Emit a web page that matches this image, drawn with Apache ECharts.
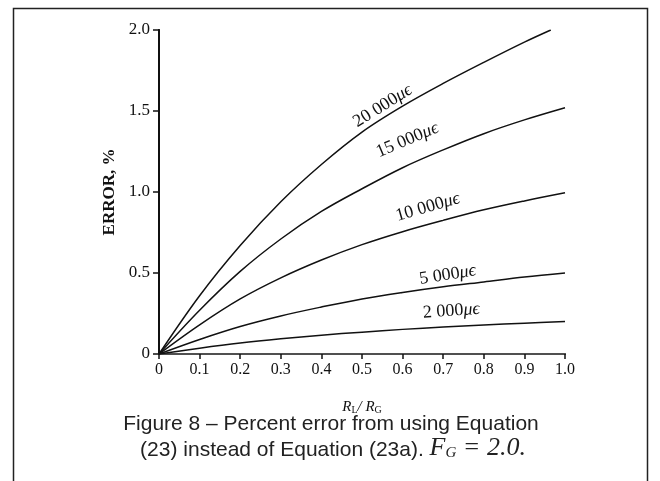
<!DOCTYPE html>
<html><head><meta charset="utf-8">
<script src="https://cdn.jsdelivr.net/npm/echarts/dist/echarts.min.js"></script>
<style>html,body{margin:0;padding:0;background:#fff}#c{width:660px;height:481px}</style>
</head><body><div id="c"></div>
<script>
// ---- data ----
const xValues = [0, 0.1, 0.2, 0.3, 0.4, 0.5, 0.6, 0.7, 0.8, 0.9, 1.0];
const x20000 = [0, 0.1, 0.2, 0.3, 0.4, 0.5, 0.6, 0.7, 0.8, 0.9, 0.965];
const err20000 = [0, 0.36, 0.67, 0.94, 1.17, 1.37, 1.53, 1.67, 1.80, 1.925, 2.0];
const err15000 = [0, 0.27, 0.51, 0.71, 0.88, 1.02, 1.15, 1.26, 1.36, 1.445, 1.52];
const err10000 = [0, 0.18, 0.34, 0.47, 0.58, 0.675, 0.755, 0.825, 0.89, 0.945, 0.995];
const err5000 = [0, 0.09, 0.17, 0.235, 0.29, 0.34, 0.38, 0.415, 0.445, 0.475, 0.50];
const err2000 = [0, 0.036, 0.068, 0.094, 0.116, 0.135, 0.152, 0.166, 0.179, 0.19, 0.2];
const curveNames = ['20 000', '15 000', '10 000', '5 000', '2 000'];
const xTicks = ['0', '0.1', '0.2', '0.3', '0.4', '0.5', '0.6', '0.7', '0.8', '0.9', '1.0'];
const yTicks = ['0', '0.5', '1.0', '1.5', '2.0'];

const SERIF = '"Liberation Serif","Times New Roman",serif';
const SANS = '"Liberation Sans",Arial,sans-serif';

function pairs(xs, ys) { return ys.map((v, i) => [xs[i], v]); }
const allSeries = [
  pairs(x20000, err20000),
  pairs(xValues, err15000),
  pairs(xValues, err10000),
  pairs(xValues, err5000),
  pairs(xValues, err2000)
];

const chart = echarts.init(document.getElementById('c'), null, {renderer: 'canvas'});
const option = {
  animation: false,
  backgroundColor: '#fff',
  grid: {left: 159, right: 95, top: 30, bottom: 127, containLabel: false},
  xAxis: [{
    type: 'value', min: 0, max: 1, interval: 0.1,
    axisLine: {show: true, onZero: false, lineStyle: {color: '#111', width: 2}},
    axisTick: {show: true, inside: false, length: 5, lineStyle: {color: '#111', width: 1.5}},
    axisLabel: {margin: 8, color: '#111', fontFamily: SERIF, fontSize: 16,
      formatter: (v) => xTicks[Math.round(v * 10)]},
    splitLine: {show: false}
  }, {
    type: 'value', min: 0, max: 1, position: 'top',
    axisLine: {show: true, lineStyle: {color: '#666', width: 1.5}},
    axisTick: {show: false}, axisLabel: {show: false}, splitLine: {show: false}
  }],
  yAxis: [{
    type: 'value', min: 0, max: 2, interval: 0.5,
    name: 'ERROR, %', nameLocation: 'middle', nameRotate: 90, nameGap: 41,
    nameTextStyle: {fontFamily: SERIF, fontWeight: 'bold', fontSize: 17, color: '#111'},
    axisLine: {show: true, onZero: false, lineStyle: {color: '#111', width: 2}},
    axisTick: {show: true, inside: false, length: 6, lineStyle: {color: '#111', width: 1.5}},
    axisLabel: {margin: 9, color: '#111', fontFamily: SERIF, fontSize: 17,
      formatter: (v) => yTicks[Math.round(v * 2)]},
    splitLine: {show: false}
  }, {
    type: 'value', min: 0, max: 2, position: 'right',
    axisLine: {show: true, lineStyle: {color: '#111', width: 1.8}},
    axisTick: {show: false}, axisLabel: {show: false}, splitLine: {show: false}
  }],
  series: allSeries.map((d, i) => ({
    type: 'line', name: curveNames[i], data: d, smooth: 0.35,
    symbol: 'none', clip: true,
    lineStyle: {color: '#111', width: 1.5}
  })),
  graphic: []
};
chart.setOption(option);

// curve labels: [data x, data y, rotation deg]
const labelPlaces = [
  [0.551, 1.53, 32],
  [0.612, 1.32, 23],
  [0.662, 0.905, 16],
  [0.711, 0.488, 9],
  [0.72, 0.265, 4]
];
const g = [];
labelPlaces.forEach((p, i) => {
  const pt = chart.convertToPixel({gridIndex: 0}, [p[0], p[1]]);
  g.push({
    type: 'text', x: pt[0], y: pt[1], rotation: p[2] * Math.PI / 180,
    style: {
      text: '{n|' + curveNames[i] + '}{m|μϵ}',
      align: 'center', verticalAlign: 'middle',
      rich: {
        n: {fontFamily: SERIF, fontSize: 18, fill: '#111'},
        m: {fontFamily: SERIF, fontSize: 18, fontStyle: 'italic', fill: '#111'}
      }
    }
  });
});
// outer frame
g.push({type: 'rect', shape: {x: 13.5, y: 8.5, width: 634, height: 520},
  style: {fill: null, stroke: '#222', lineWidth: 1.5}, silent: true});
// x-axis name
g.push({type: 'text', x: 362, y: 406, style: {
  text: '{r|R}{s|L}{r|/ R}{s|G}', align: 'center', verticalAlign: 'middle',
  rich: {
    r: {fontFamily: SERIF, fontStyle: 'italic', fontSize: 15, fill: '#111', verticalAlign: 'bottom', lineHeight: 18},
    s: {fontFamily: SERIF, fontSize: 10, fill: '#111', verticalAlign: 'bottom', lineHeight: 12}
  }
}});
// caption (centred on the figure frame)
g.push({type: 'text', x: 331, y: 424, style: {
  text: 'Figure 8 – Percent error from using Equation', align: 'center', verticalAlign: 'middle',
  fontFamily: SANS, fontSize: 21, fill: '#222'
}});
g.push({type: 'text', x: 333, y: 449, style: {
  text: '{a|(23) instead of Equation (23a). }{f|F}{s|G}{f| = 2.0.}', align: 'center', verticalAlign: 'middle',
  rich: {
    a: {fontFamily: SANS, fontSize: 21, fill: '#222', verticalAlign: 'bottom', lineHeight: 24},
    f: {fontFamily: SERIF, fontStyle: 'italic', fontSize: 26, fill: '#222', verticalAlign: 'bottom', lineHeight: 24},
    s: {fontFamily: SERIF, fontStyle: 'italic', fontSize: 15, fill: '#222', verticalAlign: 'bottom', lineHeight: 12}
  }
}});
chart.setOption({graphic: g});
</script>
</body></html>
